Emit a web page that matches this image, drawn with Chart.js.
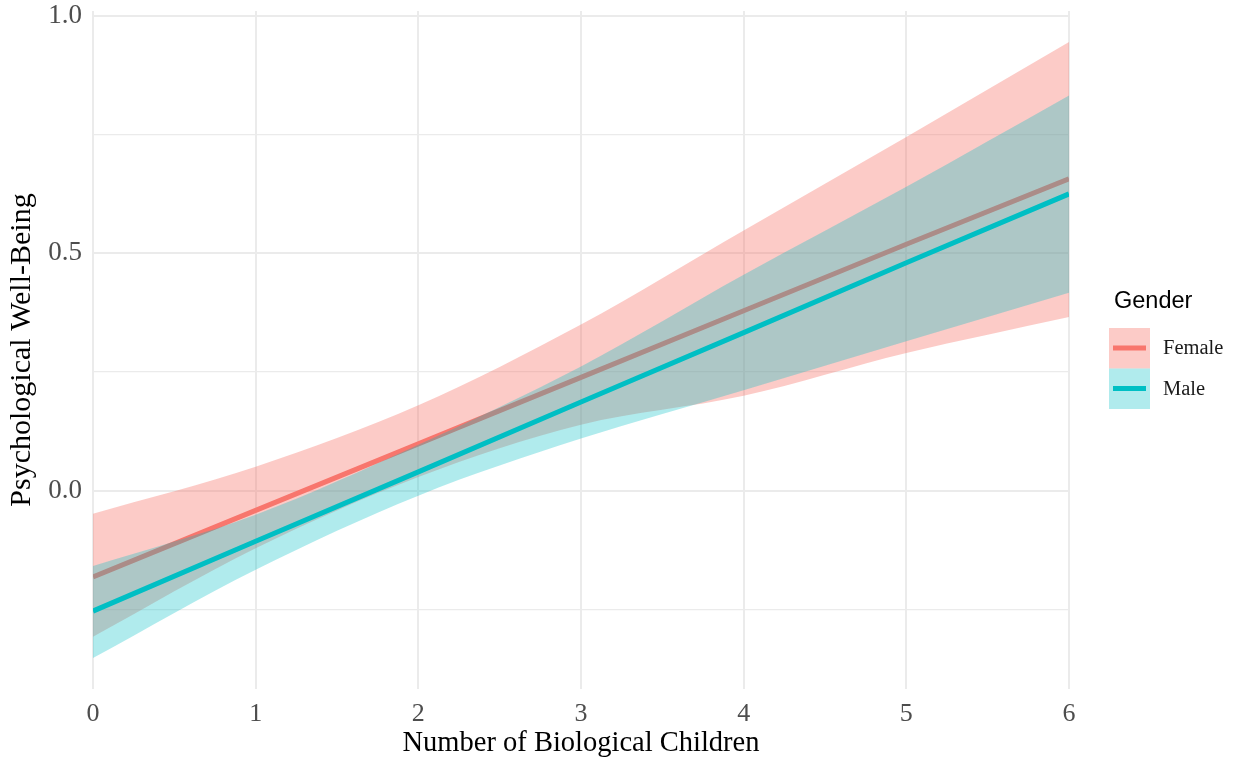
<!DOCTYPE html>
<html lang="en">
<head>
<meta charset="UTF-8">
<title>Psychological Well-Being by Number of Biological Children</title>
<script src="https://cdn.jsdelivr.net/npm/chart.js"></script>
<style>
    html, body { margin: 0; padding: 0; background: #ffffff; }
    .wrap { width: 1233px; height: 761px; position: relative; }
</style>
</head>
<body>
<div class="wrap"><canvas id="chart" width="1233" height="761"></canvas></div>
<script>
// number of biological children
const children = [0, 1, 2, 3, 4, 5, 6];

// fitted values and confidence band
const femaleFit   = [-0.181, -0.041, 0.099, 0.239, 0.379, 0.519, 0.657];
const femaleUpper = [-0.048, 0.051, 0.180, 0.350, 0.548, 0.745, 0.945];
const femaleLower = [-0.307, -0.121, 0.029, 0.139, 0.200, 0.290, 0.366];

const maleFit   = [-0.253, -0.106, 0.040, 0.187, 0.333, 0.480, 0.625];
const maleUpper = [-0.158, -0.050, 0.097, 0.262, 0.455, 0.640, 0.832];
const maleLower = [-0.352, -0.166, -0.010, 0.110, 0.212, 0.315, 0.417];

const yTicks = [-0.25, 0, 0.25, 0.5, 0.75, 1.0];
const xTicks = [0, 1, 2, 3, 4, 5, 6];
const groups = ['Female', 'Male'];

const RED = '#F8766D';
const TEAL = '#00BFC4';
const RED_FILL = 'rgba(248,118,109,0.38)';
const TEAL_FILL = 'rgba(0,191,196,0.31)';
const serif = '"Liberation Serif", "DejaVu Serif", serif';
const sans = '"Liberation Sans", Arial, sans-serif';

const pts = arr => arr.map((v, i) => ({ x: children[i], y: v }));
const isMajor = v => Math.abs(v * 2 - Math.round(v * 2)) < 1e-6;

function band(arr, fillTo, colour, order) {
    return {
        data: pts(arr),
        borderWidth: 0,
        pointRadius: 0,
        backgroundColor: colour,
        fill: fillTo,
        cubicInterpolationMode: 'monotone',
        order: order
    };
}

function fitLine(arr, colour, order) {
    return {
        data: pts(arr),
        borderColor: colour,
        borderWidth: 5,
        pointRadius: 0,
        fill: false,
        order: order
    };
}

// ggplot-like legend drawn on the right
const ggLegend = {
    id: 'ggLegend',
    afterDraw(chart) {
        const ctx = chart.ctx;
        ctx.save();
        ctx.fillStyle = '#000';
        ctx.font = '23.5px ' + sans;
        ctx.textBaseline = 'middle';
        ctx.fillText('Gender', 1114, 302);
        const fills = [RED_FILL, TEAL_FILL];
        const lines = [RED, TEAL];
        groups.forEach((g, i) => {
            const top = 328 + i * 40.5;
            ctx.fillStyle = fills[i];
            ctx.fillRect(1109, top, 41, 40.5);
            ctx.strokeStyle = lines[i];
            ctx.lineWidth = 5;
            ctx.beginPath();
            ctx.moveTo(1113, top + 20);
            ctx.lineTo(1146, top + 20);
            ctx.stroke();
            ctx.fillStyle = '#1a1a1a';
            ctx.font = '20.5px ' + serif;
            ctx.fillText(g, 1163, top + 21);
        });
        ctx.restore();
    }
};

new Chart(document.getElementById('chart'), {
    type: 'line',
    data: {
        datasets: [
            band(femaleUpper, 1, RED_FILL, 5),
            band(femaleLower, false, 'rgba(0,0,0,0)', 5),
            fitLine(femaleFit, RED, 4),
            band(maleUpper, 4, TEAL_FILL, 3),
            band(maleLower, false, 'rgba(0,0,0,0)', 3),
            fitLine(maleFit, TEAL, 1)
        ]
    },
    options: {
        responsive: false,
        animation: false,
        layout: { padding: { top: 11, right: 164, left: 0, bottom: 0 } },
        plugins: {
            legend: { display: false },
            tooltip: { enabled: false },
            filler: { drawTime: 'beforeDatasetDraw' }
        },
        scales: {
            x: {
                type: 'linear',
                min: 0,
                max: 6,
                afterFit(scale) {
                    scale.height = 72;
                    scale.paddingLeft = 0;
                    scale.paddingRight = 0;
                },
                afterBuildTicks(scale) { scale.ticks = xTicks.map(v => ({ value: v })); },
                grid: { color: '#EBEBEB', lineWidth: 2, drawTicks: false },
                border: { display: false },
                ticks: {
                    color: '#4D4D4D',
                    font: { family: serif, size: 26 },
                    padding: 10
                },
                title: {
                    display: true,
                    text: 'Number of Biological Children',
                    color: '#000',
                    font: { family: serif, size: 28.5 },
                    padding: { top: 0, bottom: 0 }
                }
            },
            y: {
                type: 'linear',
                min: -0.417,
                max: 1.01,
                afterFit(scale) {
                    scale.width = 93;
                    scale.paddingTop = 0;
                    scale.paddingBottom = 0;
                },
                afterBuildTicks(scale) { scale.ticks = yTicks.map(v => ({ value: v })); },
                grid: {
                    color: '#EBEBEB',
                    lineWidth: ctx => (isMajor(ctx.tick.value) ? 2 : 1.3),
                    drawTicks: false
                },
                border: { display: false },
                ticks: {
                    color: '#4D4D4D',
                    font: { family: serif, size: 27 },
                    padding: 11,
                    callback: v => (isMajor(v) ? v.toFixed(1) : '')
                },
                title: {
                    display: true,
                    text: 'Psychological Well-Being',
                    color: '#000',
                    font: { family: serif, size: 30 },
                    padding: { top: 4, bottom: 0 }
                }
            }
        }
    },
    plugins: [ggLegend]
});
</script>
</body>
</html>
